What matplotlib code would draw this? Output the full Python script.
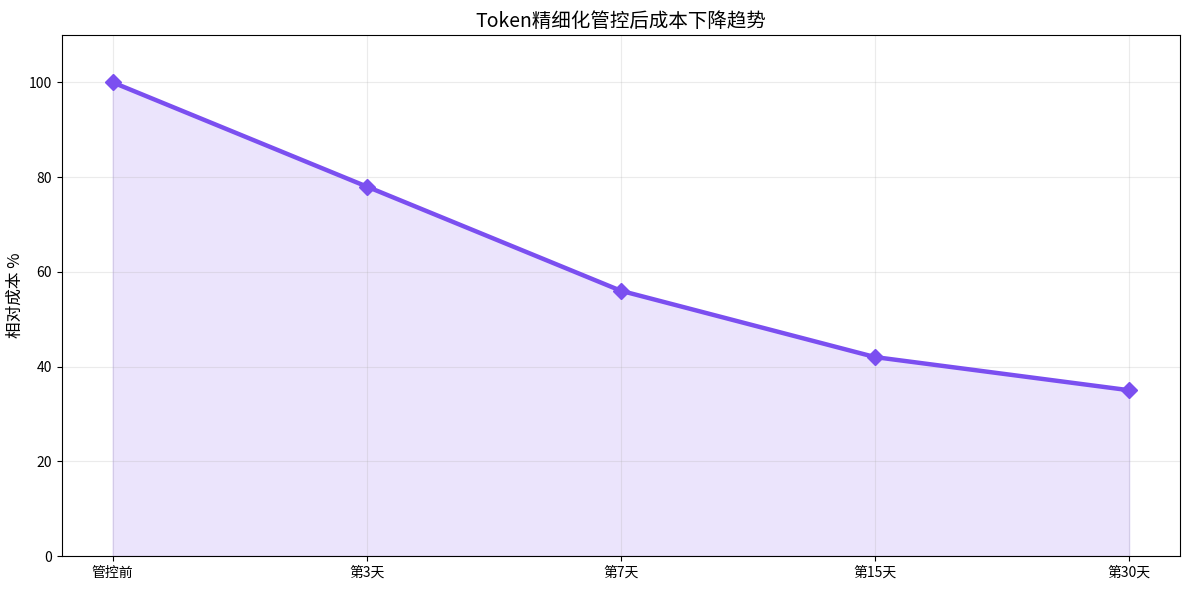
import matplotlib
matplotlib.use("Agg")
import matplotlib.pyplot as plt

plt.rcParams['font.family'] = ['Noto Sans CJK SC', 'DejaVu Sans']
plt.rcParams['axes.unicode_minus'] = False

stages = ["管控前", "第3天", "第7天", "第15天", "第30天"]
cost_pct = [100, 78, 56, 42, 35]

COLOR = "#7b4ff0"

fig, ax = plt.subplots(figsize=(11.89, 5.89), dpi=100)
x = list(range(len(stages)))
ax.plot(x, cost_pct, color=COLOR, linewidth=3.2, marker="D", markersize=8)
ax.fill_between(x, cost_pct, color=COLOR, alpha=0.15)
ax.set_xticks(x)
ax.set_xticklabels(stages)
ax.set_ylim(0, 110)
ax.set_ylabel("相对成本 %", fontsize=12)
ax.set_title("Token精细化管控后成本下降趋势", fontsize=14, fontweight="medium")
ax.grid(True, alpha=0.25)
fig.subplots_adjust(left=0.052, right=0.9924, top=0.9406, bottom=0.056)
fig.savefig("out.png", dpi=100)
